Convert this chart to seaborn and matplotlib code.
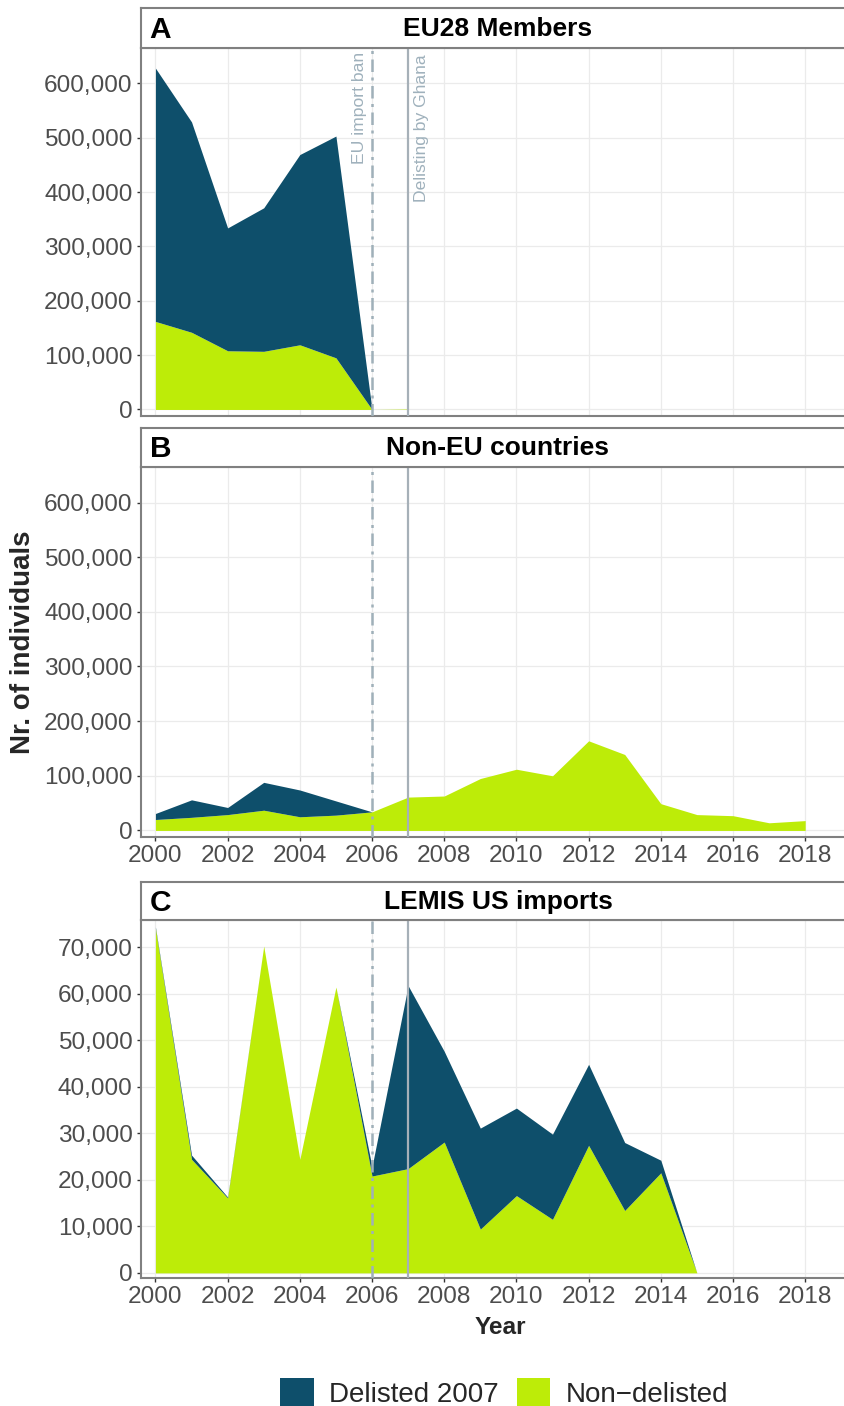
import numpy as np
import pandas as pd
import matplotlib
matplotlib.use("Agg")
import matplotlib.pyplot as plt
from matplotlib.patches import Patch
from matplotlib.ticker import FuncFormatter
import seaborn as sns

# Datos
years_a = list(range(2000, 2008))
eu_nondelisted = [162000, 142000, 108000, 107000, 119000, 95000, 0, 800]
eu_delisted = [466000, 387000, 226000, 264000, 350000, 408000, 0, 0]

years_b = list(range(2000, 2019))
noneu_nondelisted = [20000, 24000, 29000, 37000, 25000, 28000, 34000, 61000, 63000, 95000,
                     112000, 100000, 164000, 139000, 49000, 29000, 27000, 14000, 18000]
noneu_delisted = [11000, 32000, 13000, 51000, 49000, 26000, 0, 0, 0, 0,
                  0, 0, 0, 0, 0, 0, 0, 0, 0]

years_c = list(range(2000, 2016))
us_nondelisted = [74000, 24400, 16100, 70200, 24400, 61400, 20800, 22400, 28100, 9400,
                  16600, 11500, 27400, 13400, 21500, 0]
us_delisted = [300, 900, 200, 0, 0, 0, 2000, 39300, 19500, 21700,
               18800, 18300, 17400, 14600, 2700, 0]

panel_tags = ["A", "B", "C"]
panel_titles = ["EU28 Members", "Non-EU countries", "LEMIS US imports"]
legend_labels = ["Delisted 2007", "Non\u2212delisted"]

col_del = "#0e4f6b"
col_non = "#bdec08"
col_line = "#9fb0b9"
col_frame = "#808080"

sns.set_theme(style="whitegrid")
plt.rcParams["font.family"] = ["Liberation Sans", "DejaVu Sans"]

W, H = 845, 1406
fig = plt.figure(figsize=(W / 100, H / 100), dpi=100)

def fx(px):
    return px / W

def box(top, bottom):
    return [fx(141), 1 - bottom / H, fx(855 - 141), (bottom - top) / H]

panels = [
    (48, 416, 8, pd.DataFrame({"Year": years_a, "Non": eu_nondelisted, "Del": eu_delisted})),
    (467, 837, 428, pd.DataFrame({"Year": years_b, "Non": noneu_nondelisted, "Del": noneu_delisted})),
    (920, 1278, 882, pd.DataFrame({"Year": years_c, "Non": us_nondelisted, "Del": us_delisted})),
]

comma = FuncFormatter(lambda v, p: f"{int(v):,}")

for i, (top, bottom, stop, df) in enumerate(panels):
    ax = fig.add_axes(box(top, bottom))
    ax.stackplot(df["Year"], df["Non"], df["Del"], colors=[col_non, col_del], lw=0, zorder=2)
    ax.axvline(2006, color=col_line, lw=1.8, ls=(0, (5, 2.2, 1.2, 2.2)), zorder=3)
    ax.axvline(2007, color="#a6b0b8", lw=1.6, zorder=3)
    ax.set_xlim(1999.6, 2019.38)
    ax.set_xticks(range(2000, 2019, 2))
    if i < 2:
        ax.set_ylim(-12000, 665000)
        ax.set_yticks(range(0, 600001, 100000))
    else:
        ax.set_ylim(-1100, 75800)
        ax.set_yticks(range(0, 70001, 10000))
    ax.yaxis.set_major_formatter(comma)
    ax.grid(True, color="#ebebeb", lw=0.9)
    ax.set_axisbelow(True)
    ax.set_facecolor("white")
    for s in ax.spines.values():
        s.set_color(col_frame)
        s.set_linewidth(1.5)
    ax.tick_params(axis="y", left=True, length=3, width=1, color="#333333",
                   pad=3, labelsize=17.6, labelcolor="#4d4d4d")
    if i == 0:
        ax.tick_params(axis="x", bottom=False, labelbottom=False)
        ax.text(2005.85, 657000, "EU import ban", rotation=90, ha="right", va="top",
                color="#9fb1bc", fontsize=12.6)
        ax.text(2007.15, 653000, "Delisting by Ghana", rotation=90, ha="left", va="top",
                color="#9fb1bc", fontsize=12.6)
    else:
        ax.tick_params(axis="x", bottom=True, length=3, width=1, color="#333333",
                       pad=3, labelsize=17.6, labelcolor="#4d4d4d")
    ax.set_xlabel("")
    ax.set_ylabel("")

    # strip
    sax = fig.add_axes([fx(141), 1 - top / H, fx(855 - 141), (top - stop) / H])
    sax.set_xticks([])
    sax.set_yticks([])
    sax.grid(False)
    sax.set_facecolor("white")
    for s in sax.spines.values():
        s.set_color(col_frame)
        s.set_linewidth(1.5)
    sax.text(0.5, 0.48, panel_titles[i], ha="center", va="center", fontsize=19,
             fontweight="bold", color="black", transform=sax.transAxes)
    sax.text(0.012, 0.45, panel_tags[i], ha="left", va="center", fontsize=21.5,
             fontweight="bold", color="black", transform=sax.transAxes)

fig.text(fx(23), 1 - 642 / H, "Nr. of individuals", rotation=90, ha="center", va="center",
         fontsize=20, fontweight="bold")
fig.text(fx(500), 1 - 1328 / H, "Year", ha="center", va="center",
         fontsize=17.6, fontweight="bold")

handles = [Patch(facecolor=col_del, edgecolor="none"), Patch(facecolor=col_non, edgecolor="none")]
fig.legend(handles, legend_labels, loc="lower center", bbox_to_anchor=(fx(504), -0.019),
           ncol=2, frameon=False, fontsize=20, handlelength=1.22, handleheight=1.22,
           handletextpad=0.55, columnspacing=0.65)

fig.savefig("out.png", dpi=100)
